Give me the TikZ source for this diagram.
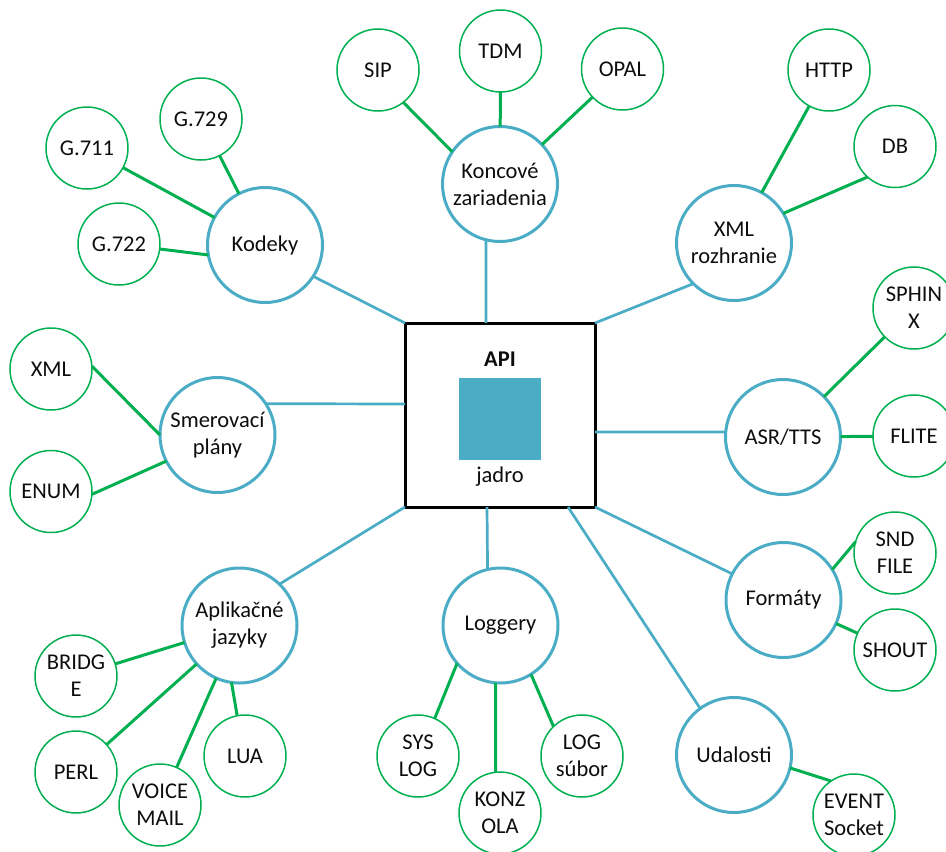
\documentclass[tikz,border=0pt]{standalone}
\usepackage{fontspec}
\setmainfont{Carlito}
\definecolor{hubblue}{HTML}{4BACC6}
\definecolor{leafgreen}{HTML}{00B050}
\definecolor{inktext}{HTML}{0D0D0D}
\begin{document}
\begin{tikzpicture}[x=1pt,y=-1pt,
  font=\fontsize{22.5}{27}\selectfont, text=inktext,
  hub/.style={circle, draw=hubblue, line width=3pt, minimum size=115pt,
    inner sep=0pt, outer sep=0pt, align=center},
  leaf/.style={circle, draw=leafgreen, line width=1.5pt, minimum size=82pt,
    inner sep=0pt, outer sep=0pt, align=center},
  core/.style={draw=black, line width=3pt, minimum width=190pt,
    minimum height=184pt, inner sep=0pt, outer sep=0pt},
  hublink/.style={draw=hubblue, line width=2.7pt},
  leaflink/.style={draw=leafgreen, line width=3pt}]

\useasboundingbox (0,0) rectangle (946,852);
\clip (0,0) rectangle (946,852);

% central API box
\node[core] (api) at (500,415) {};
\node[font=\fontsize{22.5}{27}\selectfont\bfseries] (apilabel) at (500,359) {API};
\node[fill=hubblue, minimum size=82pt, inner sep=0pt] (kernel) at (500,419) {};
\node (kernellabel) at (500,477) {jadro};

% first ring: subsystems
\node[hub] (kod)  at (265,245)     {Kodeky};
\node[hub] (konc) at (500,184)     {Koncové\\zariadenia};
\node[hub] (xmlr) at (734,243)     {XML\\rozhranie};
\node[hub] (smer) at (217.5,435)   {Smerovací\\plány};
\node[hub] (asr)  at (783,437)     {ASR/TTS};
\node[hub] (apl)  at (239.5,625.5) {Aplikačné\\jazyky};
\node[hub] (logg) at (500.5,625.5) {Loggery};
\node[hub] (form) at (783.5,600)   {Formáty};
\node[hub] (uda)  at (734,755)     {Udalosti};

% second ring: modules
\node[leaf] (g729)   at (201,119)   {G.729};
\node[leaf] (g711)   at (87,148)    {G.711};
\node[leaf] (g722)   at (119,244)   {G.722};
\node[leaf] (sip)    at (378,70)    {SIP};
\node[leaf] (tdm)    at (500.5,51)  {TDM};
\node[leaf] (opal)   at (622.5,69)  {OPAL};
\node[leaf] (http)   at (829,70)    {HTTP};
\node[leaf] (db)     at (895,146.5) {DB};
\node[leaf] (xmll)   at (51,369)    {XML};
\node[leaf] (enum)   at (51,491.5)  {ENUM};
\node[leaf] (sphinx) at (914,308)   {SPHIN\\X};
\node[leaf] (flite)  at (914,436)   {FLITE};
\node[leaf] (bridge) at (76,676)    {BRIDG\\E};
\node[leaf] (perl)   at (76,772)    {PERL};
\node[leaf] (vmail)  at (160,805)   {VOICE\\MAIL};
\node[leaf] (lua)    at (245,756)   {LUA};
\node[leaf] (syslog) at (418,756)   {SYS\\LOG};
\node[leaf] (konz)   at (500,813)   {KONZ\\OLA};
\node[leaf] (logsub) at (582,756)   {LOG\\súbor};
\node[leaf] (snd)    at (895,553)   {SND\\FILE};
\node[leaf] (shout)  at (895,650)   {SHOUT};
\node[leaf] (event)  at (854,815)   {EVENT\\Socket};

% attachment points on the API box
\coordinate (apiT)  at (486,323);
\coordinate (apiL)  at (405,404);
\coordinate (apiR)  at (595,432);
\coordinate (apiB)  at (487,507);
\coordinate (apiBR) at (568,507);

% box to subsystems
\path[hublink] (api.north west) -- (kod.-33);
\path[hublink] (apiT) -- (konc.256);
\path[hublink] (api.north east) -- (xmlr.225);
\path[hublink] (apiL) -- (smer.33);
\path[hublink] (apiR) -- (asr.175);
\path[hublink] (api.south west) -- (apl.46);
\path[hublink] (apiB) -- (logg.103.6);
\path[hublink] (apiBR) -- (uda.126);
\path[hublink] (api.south east) -- (form.153);

% subsystems to modules
\path[leaflink] (g729) -- (kod);
\path[leaflink] (g711) -- (kod);
\path[leaflink] (g722.-7) -- (kod.190);
\path[leaflink] (sip.-52) -- (konc.146);
\path[leaflink] (tdm) -- (konc);
\path[leaflink] (opal) -- (konc);
\path[leaflink] (http) -- (xmlr);
\path[leaflink] (db.228) -- (xmlr.31.5);
\path[leaflink] (xmll.4) -- (smer.180);
\path[leaflink] (enum.-4) -- (smer.207);
\path[leaflink] (sphinx) -- (asr);
\path[leaflink] (flite) -- (asr);
\path[leaflink] (bridge) -- (apl);
\path[leaflink] (perl) -- (apl);
\path[leaflink] (vmail) -- (apl);
\path[leaflink] (lua.101) -- (apl.262);
\path[leaflink] (syslog.66) -- (logg.221);
\path[leaflink] (konz.96) -- (logg.265.5);
\path[leaflink] (logsub.134) -- (logg.-58);
\path[leaflink] (snd.164) -- (form.32);
\path[leaflink] (shout) -- (form);
\path[leaflink] (event.124) -- (uda.-13);
\end{tikzpicture}
\end{document}
